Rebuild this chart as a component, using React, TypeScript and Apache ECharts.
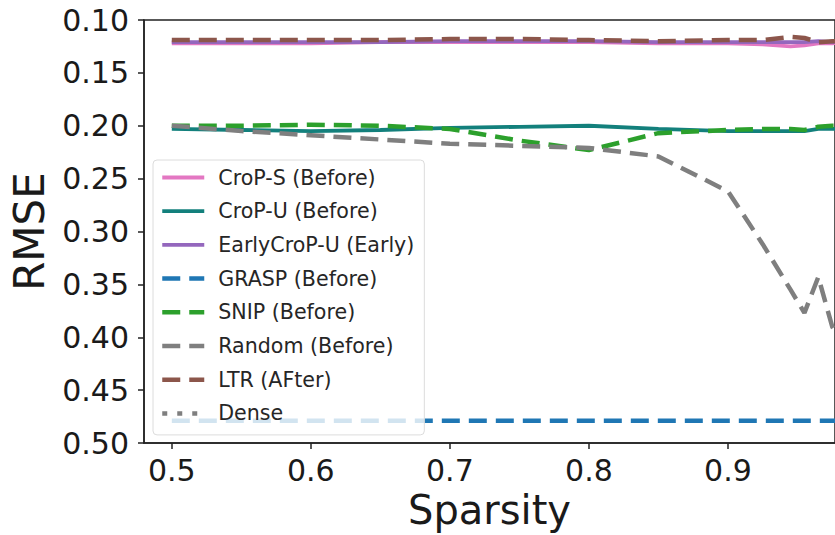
import React, { useEffect, useRef } from "react";
import * as echarts from "echarts";

const sparsity = [0.5, 0.55, 0.6, 0.65, 0.7, 0.75, 0.8, 0.85, 0.9, 0.925, 0.945, 0.955, 0.965, 0.975, 0.99];

const cropS = [0.122, 0.122, 0.122, 0.121, 0.121, 0.121, 0.121, 0.122, 0.122, 0.123, 0.125, 0.124, 0.122, 0.122, 0.121];
const cropU = [0.203, 0.204, 0.205, 0.204, 0.202, 0.201, 0.2, 0.203, 0.205, 0.205, 0.205, 0.205, 0.203, 0.203, 0.203];
const earlyCropU = [0.121, 0.121, 0.121, 0.121, 0.12, 0.12, 0.12, 0.121, 0.121, 0.121, 0.121, 0.121, 0.12, 0.121, 0.121];
const grasp = [0.479, 0.479, 0.479, 0.479, 0.479, 0.479, 0.479, 0.479, 0.479, 0.479, 0.479, 0.479, 0.479, 0.479, 0.479];
const snip = [0.2, 0.2, 0.199, 0.2, 0.203, 0.214, 0.223, 0.207, 0.204, 0.203, 0.203, 0.204, 0.201, 0.2, 0.2];
const random = [0.2, 0.205, 0.209, 0.213, 0.217, 0.219, 0.221, 0.229, 0.262, 0.312, 0.355, 0.377, 0.343, 0.39, 0.42];
const ltr = [0.119, 0.119, 0.119, 0.119, 0.118, 0.118, 0.119, 0.12, 0.119, 0.119, 0.116, 0.117, 0.121, 0.12, 0.12];
const dense = [0.08, 0.08, 0.08, 0.08, 0.08, 0.08, 0.08, 0.08, 0.08, 0.08, 0.08, 0.08, 0.08, 0.08, 0.08];

const xTicks = [0.5, 0.6, 0.7, 0.8, 0.9];

const DASH = [18, 9];
const DOT = [5, 10];

const seriesDefs = [
  { name: "CroP-S (Before)", data: cropS, color: "#e377c2", type: "solid", width: 3.8 },
  { name: "CroP-U (Before)", data: cropU, color: "#13807c", type: "solid", width: 3.8 },
  { name: "EarlyCroP-U (Early)", data: earlyCropU, color: "#9467bd", type: "solid", width: 3.8 },
  { name: "GRASP (Before)", data: grasp, color: "#1f77b4", type: DASH, width: 4.5 },
  { name: "SNIP (Before)", data: snip, color: "#2ca02c", type: DASH, width: 4.5 },
  { name: "Random (Before)", data: random, color: "#7f7f7f", type: DASH, width: 4.5 },
  { name: "LTR (AFter)", data: ltr, color: "#8c564b", type: DASH, width: 4.5 },
  { name: "Dense", data: dense, color: "#7f7f7f", type: DOT, width: 4.5 },
];

const FONT = "DejaVu Sans";

export default function App() {
  const ref = useRef<HTMLDivElement>(null);
  useEffect(() => {
    if (!ref.current) return;
    const chart = echarts.init(ref.current, null, { renderer: "svg" });
    chart.setOption({
      animation: false,
      backgroundColor: "#ffffff",
      grid: {
        left: 143,
        right: -12,
        top: 20,
        bottom: 90,
        show: true,
        borderColor: "#222",
        borderWidth: 1.5,
        backgroundColor: "transparent",
      },
      legend: {
        orient: "vertical",
        left: 153,
        top: 160,
        padding: [7, 10, 11, 7],
        itemWidth: 42,
        itemHeight: 14,
        itemGap: 12.7,
        backgroundColor: "rgba(255,255,255,0.8)",
        borderColor: "#dcdcdc",
        borderWidth: 1,
        borderRadius: 4,
        itemStyle: { opacity: 0 },
        textStyle: {
          fontFamily: FONT,
          fontSize: 20.6,
          lineHeight: 21,
          color: "#262626",
          padding: [0, 0, 0, 9],
        },
        data: seriesDefs.map((s) => ({
          name: s.name,
          itemStyle: { opacity: 0 },
          lineStyle: { color: s.color, width: s.width, type: s.type, cap: "butt", opacity: 1 },
        })),
      },
      xAxis: {
        type: "value",
        min: 0.48,
        max: 0.977,
        name: "Sparsity",
        nameLocation: "middle",
        nameGap: 47,
        nameTextStyle: { fontFamily: FONT, fontSize: 40, color: "#1a1a1a" },
        axisLine: { show: true, lineStyle: { color: "#222", width: 1.5 } },
        axisTick: { show: true, length: 6, lineStyle: { color: "#222", width: 1.5 }, customValues: xTicks },
        axisLabel: {
          customValues: xTicks,
          fontFamily: FONT,
          fontSize: 30,
          color: "#1a1a1a",
          margin: 12,
          formatter: (v: number) => v.toFixed(1),
        },
        splitLine: { show: false },
      },
      yAxis: {
        type: "value",
        inverse: true,
        min: 0.1,
        max: 0.5,
        interval: 0.05,
        name: "RMSE",
        nameLocation: "middle",
        nameGap: 94,
        nameTextStyle: { fontFamily: FONT, fontSize: 42, color: "#1a1a1a" },
        axisLine: { show: true, lineStyle: { color: "#222", width: 1.5 } },
        axisTick: { show: true, length: 6, lineStyle: { color: "#222", width: 1.5 } },
        axisLabel: {
          fontFamily: FONT,
          fontSize: 30,
          color: "#1a1a1a",
          margin: 15,
          formatter: (v: number) => v.toFixed(2),
        },
        splitLine: { show: false },
      },
      series: seriesDefs.map((s) => ({
        name: s.name,
        type: "line",
        data: sparsity.map((x, i) => [x, s.data[i]]),
        symbol: "none",
        showSymbol: false,
        clip: true,
        color: s.color,
        lineStyle: { color: s.color, width: s.width, type: s.type, cap: "butt" },
        itemStyle: { color: s.color },
      })),
    });
    return () => chart.dispose();
  }, []);
  return (
    <div
      ref={ref}
      style={{ position: "fixed", left: 0, top: 0, width: 835, height: 535, background: "#fff" }}
    />
  );
}
